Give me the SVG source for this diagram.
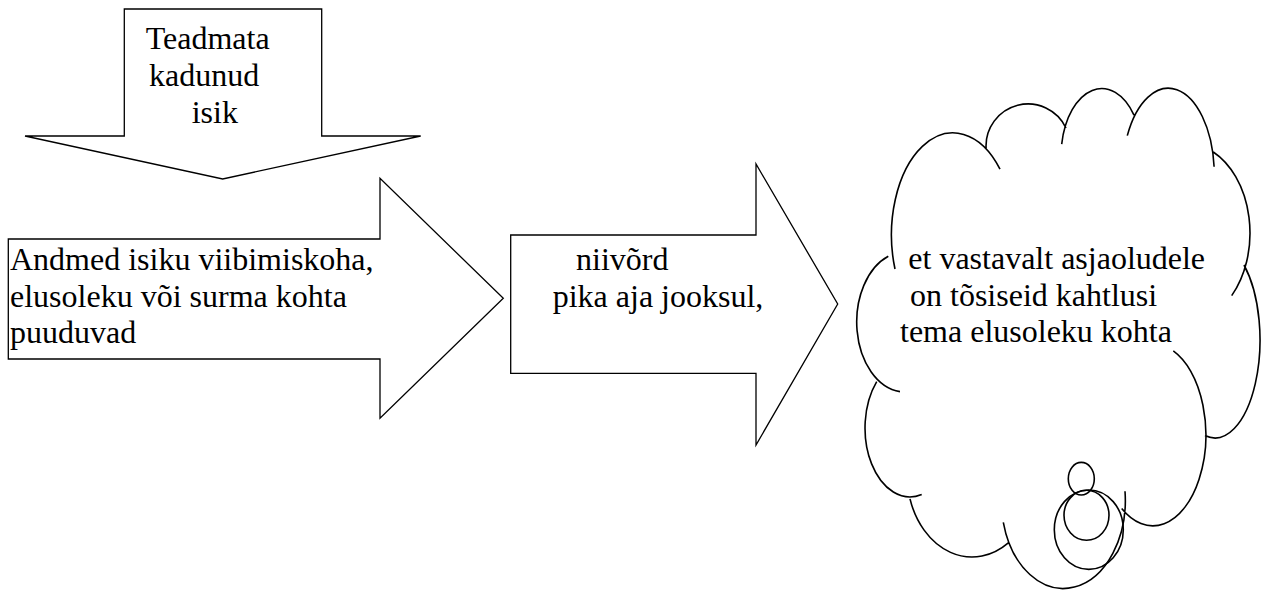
<svg xmlns="http://www.w3.org/2000/svg" width="1261" height="590" viewBox="0 0 1261 590">
  <style>
    .arrow { fill: #ffffff; stroke: #000000; stroke-width: 1.3; stroke-linejoin: miter; }
    .cloud { fill: none; stroke: #000000; stroke-width: 1.6; stroke-linecap: butt; }
    .label { font-family: "Liberation Serif", "Times New Roman", serif; font-size: 32px; fill: #000000; }
  </style>
  <rect x="0" y="0" width="1261" height="590" fill="#ffffff"/>

  <!-- downward block arrow -->
  <g id="node-teadmata">
    <polygon class="arrow" points="124.3,9 321.7,9 321.7,136 420.7,136 222.7,179 25,136 124.3,136"/>
    <text class="label" x="145.7" y="49">Teadmata</text>
    <text class="label" x="149" y="86">kadunud</text>
    <text class="label" x="191.7" y="123">isik</text>
  </g>

  <!-- first right block arrow -->
  <g id="node-andmed">
    <polygon class="arrow" points="8.3,239 380,239 380,178.3 503.3,298.3 380,418.3 380,359 8.3,359"/>
    <text class="label" x="10" y="270">Andmed isiku viibimiskoha,</text>
    <text class="label" x="10" y="306.7">elusoleku või surma kohta</text>
    <text class="label" x="10" y="343">puuduvad</text>
  </g>

  <!-- second right block arrow -->
  <g id="node-niivord">
    <polygon class="arrow" points="510.7,235 756,235 756,164 837.7,304 756,445 756,373.3 510.7,373.3"/>
    <text class="label" x="576" y="270">niivõrd</text>
    <text class="label" x="552.7" y="306.7">pika aja jooksul,</text>
  </g>

  <!-- thought cloud: each lobe is an elliptical arc, plus the trailing bubbles -->
  <g id="node-cloud">
    <path class="cloud" d="
      M895,269 A61.5,102 0 0 1 1000,169.2
      M986.1,148.3 A42,42 0 0 1 1066,128
      M1061.7,144.1 A40.7,68 0 0 1 1134,115.1
      M1127.3,135.6 A46,86.7 0 0 1 1214.1,166.7
      M1213.3,152 A65,90 0 0 1 1231.7,295.6
      M1244,265 A45,98 0 0 1 1205,435.5
      M1173.3,350.9 A53,91 0 1 1 1121.7,508.5
      M1125,491.2 A62,88.3 0 0 1 1003.3,522.3
      M1008.3,542.9 A65,83 0 0 1 910,498.9
      M921.7,494.6 A45,69 0 0 1 876.7,381.6
      M900,391.6 A48.3,70 0 0 1 888.3,256.3"/>
    <ellipse class="cloud" cx="1088.8" cy="529.7" rx="34.5" ry="39.7"/>
    <ellipse class="cloud" cx="1086.5" cy="515.3" rx="22.5" ry="25"/>
    <ellipse class="cloud" cx="1081.3" cy="478.7" rx="13" ry="16.3"/>
    <text class="label" x="908.3" y="269.3">et vastavalt asjaoludele</text>
    <text class="label" x="910" y="305.7">on tõsiseid kahtlusi</text>
    <text class="label" x="900" y="342">tema elusoleku kohta</text>
  </g>

  <g id="connectors"/>
</svg>
